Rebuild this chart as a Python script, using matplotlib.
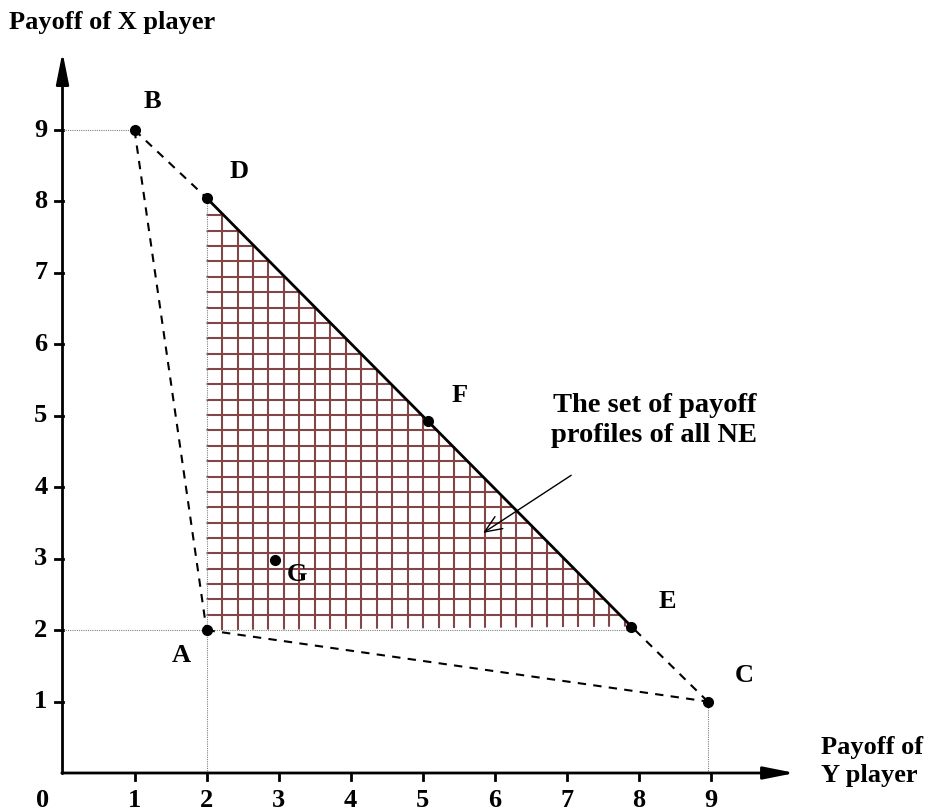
import numpy as np
import matplotlib.pyplot as plt
from matplotlib.patches import Polygon

plt.rcParams['font.family'] = ['Liberation Serif', 'DejaVu Serif']
plt.rcParams['font.weight'] = 'bold'
plt.rcParams['font.size'] = 19

# payoff profiles (Y player payoff, X player payoff)
names = ['A', 'B', 'C', 'D', 'E', 'F', 'G']
px = [2.0, 1.0, 8.96, 2.0, 7.9, 5.07, 2.95]
py = [2.0, 9.0, 1.0, 8.05, 2.05, 4.93, 2.98]
ticks = [1, 2, 3, 4, 5, 6, 7, 8, 9]
# label offsets (data units) for each point label
lab_dx = [-0.35, 0.25, 0.5, 0.45, 0.5, 0.45, 0.3]
lab_dy = [-0.35, 0.4, 0.37, 0.37, 0.35, 0.35, -0.2]

P = dict(zip(names, zip(px, py)))

fig = plt.figure(figsize=(9.26, 8.11), dpi=100)
ax = fig.add_axes([0, 0, 1, 1])
ax.set_xlim(-0.868, 11.99)
ax.set_ylim(-0.532, 10.82)
ax.axis('off')

# shaded NE region: triangle D-A-E with a square grid
tri = Polygon([P['D'], P['A'], P['E']], closed=True, facecolor='white',
              edgecolor='none', zorder=1)
ax.add_patch(tri)
step = 0.215
gc = '#834646'
for gx in np.arange(P['A'][0] + step, P['E'][0], step):
    l, = ax.plot([gx, gx], [P['A'][1], P['D'][1]], color=gc, lw=1.5, zorder=2)
    l.set_clip_path(tri)
for gy in np.arange(P['A'][1] + step, P['D'][1], step):
    l, = ax.plot([P['A'][0], P['E'][0]], [gy, gy], color=gc, lw=1.5, zorder=2)
    l.set_clip_path(tri)

# dotted guide lines
dot = dict(color='gray', lw=0.8, ls=(0, (1, 1)), zorder=3)
ax.plot([0, P['B'][0]], [P['B'][1], P['B'][1]], **dot)
ax.plot([0, P['E'][0]], [P['A'][1], P['A'][1]], **dot)
ax.plot([P['A'][0], P['A'][0]], [0, P['D'][1]], **dot)
ax.plot([P['C'][0], P['C'][0]], [0, P['C'][1]], **dot)

# boundary of feasible set
dash = dict(color='black', lw=1.5, ls=(0, (4, 3.5)), zorder=4)
for a, b in [('B', 'D'), ('B', 'A'), ('A', 'C'), ('C', 'E')]:
    ax.plot([P[a][0], P[b][0]], [P[a][1], P[b][1]], **dash)
ax.plot([P['D'][0], P['E'][0]], [P['D'][1], P['E'][1]], color='black', lw=2, zorder=4)

ax.plot(px, py, 'o', color='black', ms=7, zorder=5)
for n, x, y, dx, dy in zip(names, px, py, lab_dx, lab_dy):
    ax.text(x + dx, y + dy, n, fontweight='bold', ha='center', va='center', zorder=6)

# axes with arrows
arr = dict(arrowstyle='-|>,head_length=1.0,head_width=0.2', color='black', lw=2,
           shrinkA=0, shrinkB=0)
ax.annotate('', xy=(10.17, 0), xytext=(-0.01, 0), arrowprops=arr)
ax.annotate('', xy=(0, 10.09), xytext=(0, -0.01), arrowprops=arr)
for t in ticks:
    ax.plot([t, t], [0, -0.1], color='black', lw=2)
    ax.text(t, -0.38, str(t), fontweight='bold', ha='center', va='center')
    ax.plot([0, -0.1], [t, t], color='black', lw=2)
    ax.text(-0.3, t, str(t), fontweight='bold', ha='center', va='center')
ax.text(-0.28, -0.38, '0', fontweight='bold', ha='center', va='center')

ax.text(-0.74, 10.5, 'Payoff of X player', fontweight='bold', ha='left', va='center')
ax.text(10.53, 0.16, 'Payoff of\nY player', fontweight='bold', ha='left', va='center',
        linespacing=1.3)

ax.annotate('The set of payoff\nprofiles of all NE', xy=(5.84, 3.36), xytext=(8.22, 4.93),
            fontsize=20.5, fontweight='bold', ha='center', va='center', linespacing=1.25,
            arrowprops=dict(arrowstyle='->,head_length=0.6,head_width=0.25',
                            color='black', lw=1, shrinkA=32, shrinkB=0))

fig.savefig('out.png', dpi=100)
